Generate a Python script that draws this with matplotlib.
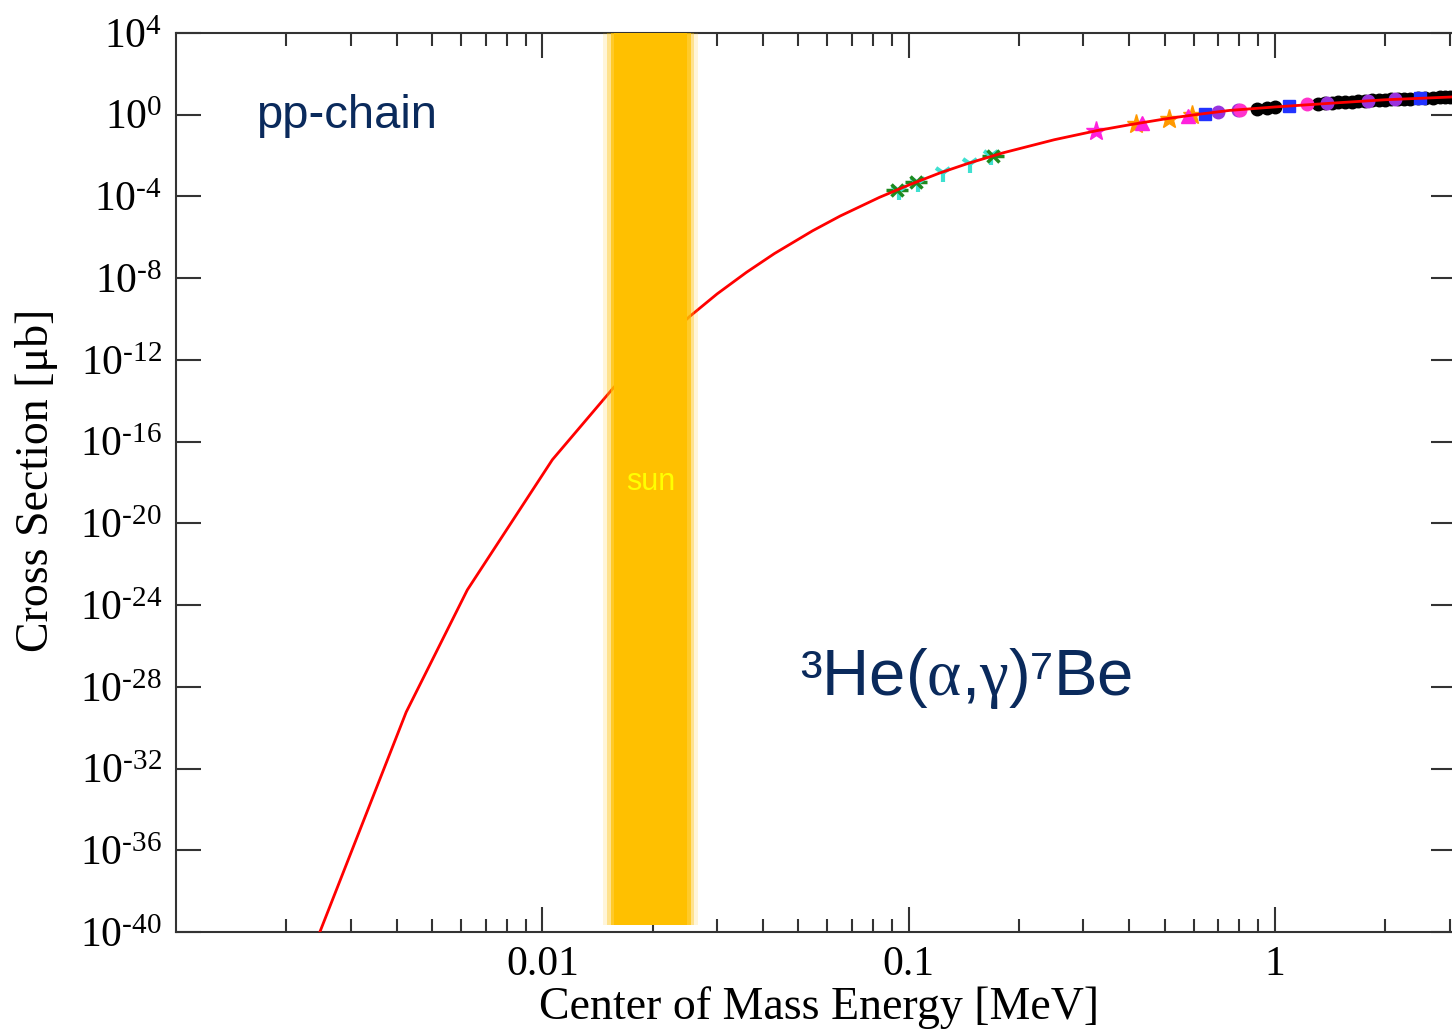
import numpy as np
import matplotlib
matplotlib.use("Agg")
import matplotlib.pyplot as plt
from matplotlib.ticker import FixedLocator, NullLocator, FuncFormatter

plt.rcParams['font.family'] = ['Liberation Serif', 'DejaVu Serif']
plt.rcParams['mathtext.fontset'] = 'custom'
plt.rcParams['mathtext.rm'] = 'Liberation Serif'
plt.rcParams['mathtext.it'] = 'Liberation Serif:italic'
plt.rcParams['mathtext.bf'] = 'Liberation Serif:bold'

# fitted cross section curve
curve_E = [0.00247, 0.00425, 0.00624, 0.01065, 0.0157, 0.0252, 0.030, 0.0361, 0.043,
           0.0547, 0.065, 0.0833, 0.100, 0.1215, 0.145, 0.1806, 0.25, 0.326, 0.40,
           0.50, 0.60, 0.75, 1.0, 1.5, 2.0, 3.1]
curve_sigma = [1e-40, 5.8e-30, 5.5e-24, 1.3e-17, 4.7e-14, 1.3e-10, 1.7e-9, 1.95e-8, 1.6e-7,
               2.1e-6, 1.1e-5, 9.1e-5, 3.6e-4, 1.4e-3, 4.1e-3, 1.35e-2, 6.0e-2, 0.166, 0.32,
               0.62, 0.98, 1.62, 2.4, 3.9, 5.4, 7.5]

# measured data sets
green_E = [0.093, 0.105, 0.170]
green_sigma = [2.1e-4, 5.0e-4, 1.0e-2]
cyan_E = [0.094, 0.106, 0.124, 0.147, 0.168]
cyan_sigma = [1.9e-4, 4.6e-4, 1.4e-3, 4.0e-3, 9.5e-3]
mstar_E = [0.324]
mstar_sigma = [0.16]
ostar_E = [0.417, 0.513, 0.593]
ostar_sigma = [0.36, 0.65, 0.95]
mtri_E = [0.433, 0.578]
mtri_sigma = [0.40, 0.89]
blue_E = [0.644, 1.09, 2.49]
blue_sigma = [1.12, 2.6, 6.4]
purple_E = [0.698, 0.792, 1.387, 1.795, 2.127]
purple_sigma = [1.35, 1.70, 3.6, 4.8, 5.6]
mcirc_E = [0.802, 1.223]
mcirc_sigma = [1.72, 3.2]
black_E = [0.893, 0.95, 1.0, 1.31, 1.37, 1.43, 1.49, 1.55, 1.62, 1.69, 1.76, 1.84, 1.92,
           2.0, 2.08, 2.17, 2.25, 2.34, 2.45, 2.57, 2.70, 2.83, 2.92, 3.01]
black_sigma = [2.0, 2.2, 2.35, 3.4, 3.6, 3.8, 4.0, 4.2, 4.4, 4.6, 4.8, 5.0, 5.2,
               5.4, 5.6, 5.8, 6.0, 6.2, 6.4, 6.6, 6.9, 7.1, 7.3, 7.4]

sun_lo, sun_hi = 0.0157, 0.0249

fig = plt.figure(figsize=(14.52, 10.31), dpi=100)
ax = fig.add_axes([176/1452, 99/1031, 1280/1452, 899/1031])
ax.set_xscale('log')
ax.set_yscale('log')
ax.set_xlim(0.001, 3.12)
ax.set_ylim(1e-40, 1e4)

ms = dict(linestyle='none', zorder=3)
ax.plot(black_E, black_sigma, 'o', color='black', markersize=9, **ms)
ax.errorbar(green_E, green_sigma, xerr=[[e*0.07 for e in green_E], [e*0.07 for e in green_E]],
            fmt='x', color='#1f8a1f', markersize=9, mew=2.5, elinewidth=2.5, zorder=3)
ax.plot(cyan_E, cyan_sigma, '1', color='#3ee0d0', markersize=13, mew=3, **ms)
ax.plot(mstar_E, mstar_sigma, '*', color='#ff22dd', markersize=15, **ms)
ax.plot(ostar_E, ostar_sigma, '*', color='#ff9900', markersize=14, **ms)
ax.plot(mtri_E, mtri_sigma, '^', color='#ff22dd', markersize=10, **ms)
ax.plot(blue_E, blue_sigma, 's', color='#2233ff', markersize=9, **ms)
ax.plot(purple_E, purple_sigma, 'o', color='#9933dd', markersize=9, **ms)
ax.plot(mcirc_E, mcirc_sigma, 'o', color='#ff33cc', markersize=9, **ms)

ax.plot(curve_E, curve_sigma, color='red', lw=2, zorder=4)

# sun band with soft edges
for pad, a in [(1.07, 0.15), (1.045, 0.35), (1.02, 0.7), (1.0, 1.0)]:
    ax.axvspan(sun_lo / pad, sun_hi * pad, ymin=0.008, ymax=1.0, color='#ffc000',
               alpha=a, lw=0, zorder=5)

# ticks
ax.xaxis.set_major_locator(FixedLocator([0.01, 0.1, 1]))
ax.xaxis.set_major_formatter(FuncFormatter(lambda v, p: {0.01: '0.01', 0.1: '0.1', 1: '1'}.get(round(v, 3), '')))
minors = [k * 10.0**d for d in range(-3, 1) for k in range(2, 10)]
ax.xaxis.set_minor_locator(FixedLocator(minors))
ax.yaxis.set_major_locator(FixedLocator([10.0**p for p in range(-40, 5, 4)]))


def ylab(v, p):
    e = int(round(np.log10(v)))
    if e < 0:
        return r'$10^{\text{-}%d}$' % (-e)
    return r'$10^{%d}$' % e


ax.yaxis.set_major_formatter(FuncFormatter(ylab))
ax.yaxis.set_minor_locator(NullLocator())
ax.tick_params(which='both', direction='in', top=True, right=True, color='#333333', width=1.5)
ax.tick_params(which='major', length=18, labelsize=30, pad=10)
ax.tick_params(which='minor', length=9.5)
for s in ax.spines.values():
    s.set_linewidth(1.5)
    s.set_color('#333333')

ax.set_xlabel('Center of Mass Energy [MeV]', fontsize=33)
ax.set_ylabel('Cross Section [\u03bcb]', fontsize=33)
ax.xaxis.set_label_coords(0.502, -0.060)
ax.yaxis.set_label_coords(-0.092, 0.502)

navy = '#0a2a5c'
fig.text(256/1452, 1 - 128/1031, 'pp-chain', fontsize=34, color=navy,
         family=['Liberation Sans', 'DejaVu Sans'], ha='left', va='baseline')
fig.text(800/1452, 1 - 695/1031, '\u00b3He($\\mathrm{\\alpha}$,$\\mathrm{\\gamma}$)\u2077Be',
         fontsize=47, color=navy, family=['Liberation Sans', 'DejaVu Sans'],
         ha='left', va='baseline')
fig.text(651/1452, 1 - 490/1031, 'sun', fontsize=22, color='#ffff00',
         family=['Liberation Sans', 'DejaVu Sans'], ha='center', va='baseline', zorder=10)

fig.savefig('out.png', dpi=100)
